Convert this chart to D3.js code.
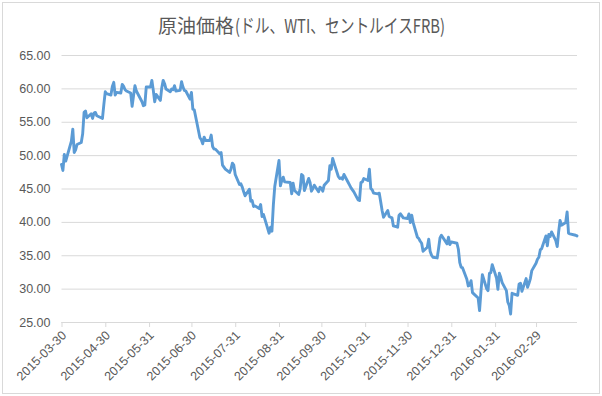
<!DOCTYPE html>
<html>
<head>
<meta charset="utf-8">
<script src="https://cdn.jsdelivr.net/npm/d3@7"></script>
<style>
  body { margin: 0; background: #fff; }
  svg { display: block; }
</style>
</head>
<body>
<div id="container"></div>
<script>
// WTI daily closes
const dates = [
  "2015-03-30","2015-03-31","2015-04-01","2015-04-02","2015-04-06","2015-04-07","2015-04-08","2015-04-09","2015-04-10",
  "2015-04-13","2015-04-14","2015-04-15","2015-04-16","2015-04-17","2015-04-20","2015-04-21","2015-04-22","2015-04-23","2015-04-24",
  "2015-04-27","2015-04-28","2015-04-29","2015-04-30","2015-05-01","2015-05-04","2015-05-05","2015-05-06","2015-05-07","2015-05-08",
  "2015-05-11","2015-05-12","2015-05-13","2015-05-14","2015-05-15","2015-05-18","2015-05-19","2015-05-20","2015-05-21","2015-05-22",
  "2015-05-26","2015-05-27","2015-05-28","2015-05-29","2015-06-01","2015-06-02","2015-06-03","2015-06-04","2015-06-05",
  "2015-06-08","2015-06-09","2015-06-10","2015-06-11","2015-06-12","2015-06-15","2015-06-16","2015-06-17","2015-06-18","2015-06-19",
  "2015-06-22","2015-06-23","2015-06-24","2015-06-25","2015-06-26","2015-06-29","2015-06-30","2015-07-01","2015-07-02",
  "2015-07-06","2015-07-07","2015-07-08","2015-07-09","2015-07-10","2015-07-13","2015-07-14","2015-07-15","2015-07-16","2015-07-17",
  "2015-07-20","2015-07-21","2015-07-22","2015-07-23","2015-07-24","2015-07-27","2015-07-28","2015-07-29","2015-07-30","2015-07-31",
  "2015-08-03","2015-08-04","2015-08-05","2015-08-06","2015-08-07","2015-08-10","2015-08-11","2015-08-12","2015-08-13","2015-08-14",
  "2015-08-17","2015-08-18","2015-08-19","2015-08-20","2015-08-21","2015-08-24","2015-08-25","2015-08-26","2015-08-27","2015-08-28",
  "2015-08-31","2015-09-01","2015-09-02","2015-09-03","2015-09-04","2015-09-08","2015-09-09","2015-09-10","2015-09-11",
  "2015-09-14","2015-09-15","2015-09-16","2015-09-17","2015-09-18","2015-09-21","2015-09-22","2015-09-23","2015-09-24","2015-09-25",
  "2015-09-28","2015-09-29","2015-09-30","2015-10-01","2015-10-02","2015-10-05","2015-10-06","2015-10-07","2015-10-08","2015-10-09",
  "2015-10-12","2015-10-13","2015-10-14","2015-10-15","2015-10-16","2015-10-19","2015-10-20","2015-10-21","2015-10-22","2015-10-23",
  "2015-10-26","2015-10-27","2015-10-28","2015-10-29","2015-10-30","2015-11-02","2015-11-03","2015-11-04","2015-11-05","2015-11-06",
  "2015-11-09","2015-11-10","2015-11-11","2015-11-12","2015-11-13","2015-11-16","2015-11-17","2015-11-18","2015-11-19","2015-11-20",
  "2015-11-23","2015-11-24","2015-11-25","2015-11-27","2015-11-30","2015-12-01","2015-12-02","2015-12-03","2015-12-04",
  "2015-12-07","2015-12-08","2015-12-09","2015-12-10","2015-12-11","2015-12-14","2015-12-15","2015-12-16","2015-12-17","2015-12-18",
  "2015-12-21","2015-12-22","2015-12-23","2015-12-24","2015-12-28","2015-12-29","2015-12-30","2015-12-31",
  "2016-01-04","2016-01-05","2016-01-06","2016-01-07","2016-01-08","2016-01-11","2016-01-12","2016-01-13","2016-01-14","2016-01-15",
  "2016-01-19","2016-01-20","2016-01-21","2016-01-22","2016-01-25","2016-01-26","2016-01-27","2016-01-28","2016-01-29",
  "2016-02-01","2016-02-02","2016-02-03","2016-02-04","2016-02-05","2016-02-08","2016-02-09","2016-02-10","2016-02-11","2016-02-12",
  "2016-02-16","2016-02-17","2016-02-18","2016-02-19","2016-02-22","2016-02-23","2016-02-24","2016-02-25","2016-02-26",
  "2016-02-29","2016-03-01","2016-03-02","2016-03-03","2016-03-04","2016-03-07","2016-03-08","2016-03-09","2016-03-10","2016-03-11",
  "2016-03-14","2016-03-15","2016-03-16","2016-03-17","2016-03-18","2016-03-21","2016-03-22","2016-03-23","2016-03-24",
  "2016-03-28","2016-03-29"
];

const prices = [
  48.6, 47.7, 50.1, 49.1, 52.1, 53.9, 50.4, 50.8, 51.6,
  51.9, 53.2, 56.4, 56.6, 55.6, 56.2, 55.5, 56.3, 56.4, 55.9,
  55.6, 55.5, 57.6, 59.5, 59.2, 59.0, 60.3, 60.9, 59.0, 59.4,
  59.3, 60.6, 60.3, 59.8, 59.6, 59.3, 57.3, 58.9, 60.4, 59.6,
  58.0, 57.4, 57.5, 60.2, 60.2, 61.2, 59.7, 58.0, 59.1,
  58.2, 60.1, 61.2, 60.7, 59.9, 59.5, 59.9, 59.8, 60.4, 59.6,
  59.7, 61.0, 60.2, 59.7, 59.6, 58.4, 59.4, 56.9, 56.8,
  52.6, 52.3, 51.7, 52.7, 52.2, 52.2, 53.0, 51.3, 50.9, 50.9,
  50.2, 50.4, 48.5, 48.2, 47.9, 47.4, 47.9, 48.8, 48.5, 47.1,
  45.6, 45.7, 45.2, 44.5, 43.9, 44.9, 43.1, 43.2, 42.3, 42.4,
  42.0, 42.6, 40.8, 41.1, 40.4, 38.3, 39.2, 38.6, 42.5, 45.3,
  49.2, 45.4, 46.2, 46.7, 46.0, 45.9, 44.2, 45.8, 44.7,
  44.1, 45.0, 47.1, 46.9, 44.7, 46.5, 45.9, 44.6, 45.0, 45.5,
  44.5, 45.2, 45.0, 44.6, 45.5, 46.2, 48.4, 47.9, 49.5, 48.8,
  46.8, 46.5, 46.6, 46.4, 47.1, 45.9, 45.5, 45.1, 44.8, 44.5,
  43.3, 43.2, 45.9, 46.0, 46.5, 46.2, 47.9, 45.0, 44.8, 44.3,
  44.2, 44.3, 43.0, 41.7, 40.7, 41.7, 40.8, 40.7, 40.6, 39.4,
  39.2, 41.0, 41.2, 40.6, 40.5, 41.2, 39.9, 41.0, 39.9,
  37.7, 37.5, 37.1, 36.8, 35.6, 36.2, 37.4, 35.6, 35.0, 34.7,
  34.6, 36.0, 37.6, 38.0, 36.7, 37.7, 36.6, 37.0,
  36.8, 35.9, 33.9, 33.2, 33.1, 31.4, 30.4, 30.5, 31.2, 29.4,
  28.6, 26.7, 29.6, 32.1, 30.0, 29.7, 32.3, 32.4, 33.6,
  31.6, 29.9, 32.3, 31.7, 30.9, 29.7, 28.0, 27.5, 26.2, 29.3,
  29.0, 30.7, 30.8, 29.6, 31.5, 30.2, 30.8, 31.5, 32.7,
  33.8, 34.4, 34.7, 35.8, 36.0, 37.9, 36.4, 38.1, 37.8, 38.5,
  37.2, 36.3, 38.5, 40.2, 39.5, 39.9, 41.5, 38.3, 38.2,
  38.0, 37.9
];

const xTicks = [
  "2015-03-30","2015-04-30","2015-05-31","2015-06-30","2015-07-31","2015-08-31",
  "2015-09-30","2015-10-31","2015-11-30","2015-12-31","2016-01-31","2016-02-29"
];
const yTicks = [25, 30, 35, 40, 45, 50, 55, 60, 65];
const xStart = "2015-03-30", xEnd = "2016-03-29";

const W = 602, H = 396;
const plotL = 61.5, plotR = 577, plotT = 55, plotB = 322;

const parse = d3.utcParse("%Y-%m-%d");
const data = dates.map((d, i) => ({ date: parse(d), value: prices[i] }));

const x = d3.scaleUtc()
  .domain([parse(xStart), parse(xEnd)])
  .range([plotL, plotR]);
const y = d3.scaleLinear()
  .domain([25, 65])
  .range([plotB, plotT]);

const svg = d3.select("#container")
  .append("svg")
  .attr("width", W)
  .attr("height", H);

// chart border
svg.append("rect")
  .attr("x", 2.5).attr("y", 2.5)
  .attr("width", W - 5).attr("height", H - 5)
  .attr("fill", "#fff")
  .attr("stroke", "#d9d9d9");

// title - katakana part squeezed like the original
svg.append("text")
  .attr("x", 158).attr("y", 33)
  .attr("font-family", "'Noto Sans CJK JP', sans-serif")
  .attr("font-size", 19)
  .attr("fill", "#595959")
  .text("原油価格");
svg.append("text")
  .attr("x", 235).attr("y", 33)
  .attr("font-family", "'Noto Sans CJK JP', sans-serif")
  .attr("font-size", 19)
  .attr("fill", "#595959")
  .attr("textLength", 210)
  .attr("lengthAdjust", "spacingAndGlyphs")
  .text("(ドル、WTI、セントルイスFRB)");

// y axis: gridlines + labels
const yAxis = d3.axisLeft(y)
  .tickValues(yTicks)
  .tickSize(-(plotR - plotL))
  .tickPadding(11)
  .tickFormat(d3.format(".2f"));

const gy = svg.append("g")
  .attr("transform", "translate(" + plotL + ",0)")
  .call(yAxis);
gy.select(".domain").remove();
gy.selectAll(".tick line").attr("stroke", "#d9d9d9");
gy.selectAll(".tick text")
  .attr("fill", "#595959")
  .attr("font-family", "'Liberation Sans', Arial, sans-serif")
  .attr("font-size", 12.5);

// x axis
const xAxis = d3.axisBottom(x)
  .tickValues(xTicks.map(parse))
  .tickSize(5)
  .tickFormat(d3.utcFormat("%Y-%m-%d"));

const gx = svg.append("g")
  .attr("transform", "translate(0," + plotB + ")")
  .call(xAxis);
gx.select(".domain").attr("stroke", "#d9d9d9").attr("d", "M" + plotL + ",0.5H" + plotR);
gx.selectAll(".tick line").attr("stroke", "#d9d9d9");
gx.selectAll(".tick text")
  .attr("fill", "#595959")
  .attr("font-family", "'Liberation Sans', Arial, sans-serif")
  .attr("font-size", 12.5)
  .attr("text-anchor", "end")
  .attr("y", 0).attr("dy", "0.35em")
  .attr("transform", "translate(2,11) rotate(-45)");

// price line
const line = d3.line()
  .x(d => x(d.date))
  .y(d => y(d.value));

svg.append("path")
  .datum(data)
  .attr("d", line)
  .attr("fill", "none")
  .attr("stroke", "#5b9bd5")
  .attr("stroke-width", 2.9)
  .attr("stroke-linejoin", "round")
  .attr("stroke-linecap", "round");
</script>
</body>
</html>
